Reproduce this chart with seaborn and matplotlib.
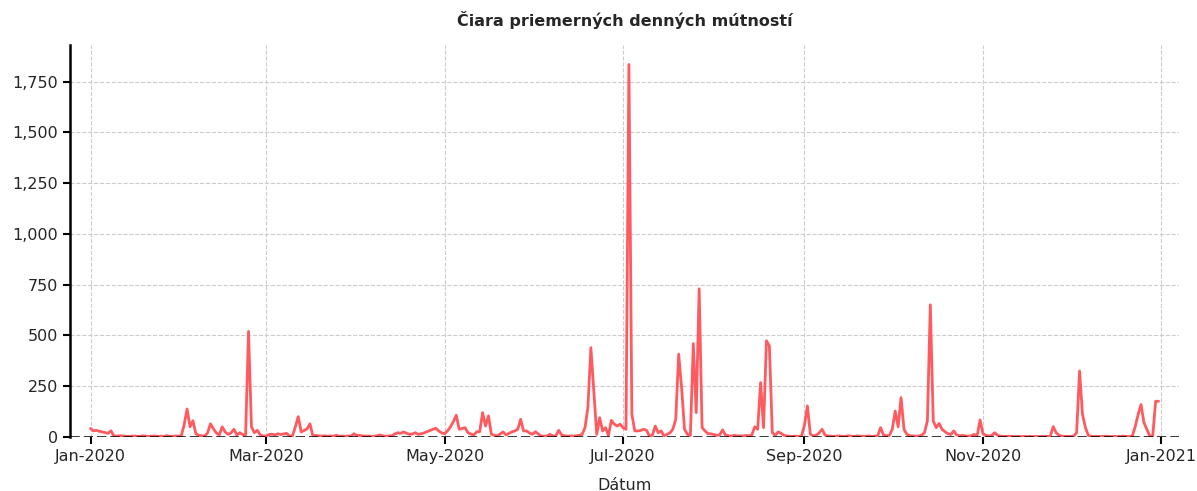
import pandas as pd
import numpy as np
import matplotlib
matplotlib.use("Agg")
import matplotlib.pyplot as plt
import matplotlib.dates as mdates
import matplotlib.ticker as mticker
import seaborn as sns

# denne priemerne mutnosti, 2020 (odcitane z grafu)
jan = [42, 30, 33, 28, 25, 22, 18, 30, 5, 4, 6, 5, 4, 3, 4, 5, 3, 4, 6, 4,
       3, 4, 5, 3, 4, 3, 6, 4, 3, 5, 4]
feb = [5, 60, 138, 50, 80, 16, 8, 6, 4, 20, 65, 40, 20, 10, 50, 25, 13, 20, 38, 10,
       21, 12, 10, 520, 50, 21, 33, 10, 5]
mar = [4, 12, 14, 10, 16, 12, 15, 18, 5, 5, 50, 100, 25, 32, 40, 65, 5, 8, 5, 4,
       6, 4, 5, 4, 8, 4, 5, 3, 5, 4, 16]
apr = [8, 8, 5, 4, 5, 3, 4, 6, 10, 5, 4, 5, 6, 15, 21, 18, 25, 18, 13, 15,
       21, 13, 16, 20, 26, 32, 38, 43, 30, 20]
may = [16, 30, 50, 75, 107, 38, 42, 46, 21, 15, 10, 26, 26, 120, 54, 104, 13, 8, 5, 15,
       25, 10, 18, 25, 30, 38, 87, 30, 30, 20, 13]
jun = [26, 15, 5, 4, 5, 13, 5, 4, 33, 10, 6, 4, 5, 4, 6, 8, 13, 46, 150, 440,
       230, 13, 95, 30, 46, 8, 82, 63, 54, 63]
jul = [46, 38, 1835, 112, 30, 30, 32, 38, 33, 5, 8, 54, 21, 30, 5, 13, 20, 38, 87, 408,
       243, 38, 13, 8, 460, 120, 730, 46, 30, 16, 16]
aug = [12, 8, 10, 35, 10, 6, 5, 8, 5, 6, 4, 8, 5, 10, 50, 38, 268, 46, 474, 449,
       21, 8, 25, 18, 8, 5, 4, 3, 4, 3, 5]
sep = [60, 153, 13, 6, 8, 20, 38, 10, 5, 4, 3, 4, 5, 3, 4, 6, 4, 3, 5, 4,
       3, 4, 5, 3, 4, 5, 46, 10, 5, 8]
okt = [38, 128, 50, 194, 38, 13, 6, 5, 4, 5, 8, 21, 79, 651, 79, 46, 67, 38, 26, 16,
       12, 30, 10, 6, 8, 5, 4, 6, 13, 5, 84]
nov = [16, 8, 5, 8, 21, 8, 4, 3, 3, 4, 3, 2, 3, 2, 3, 2, 3, 2, 3, 2,
       3, 2, 3, 4, 51, 21, 8, 4, 3, 3]
dec = [3, 4, 21, 325, 112, 46, 8, 3, 2, 3, 2, 3, 4, 3, 2, 3, 2, 3, 4, 3,
       2, 4, 50, 110, 160, 71, 38, 5, 3, 176, 176]

mutnost = jan + feb + mar + apr + may + jun + jul + aug + sep + okt + nov + dec
datumy = pd.date_range("2020-01-01", "2020-12-31", freq="D")

df = pd.DataFrame({"Dátum": datumy, "mutnost": mutnost})

sns.set_style("whitegrid", {"grid.linestyle": "--", "grid.color": "#cccccc"})
plt.rcParams['font.family'] = ['DejaVu Sans']

fig, ax = plt.subplots(figsize=(11.97, 4.91), dpi=100)
fig.subplots_adjust(left=0.0585, right=0.985, top=0.908, bottom=0.11)

sns.lineplot(data=df, x="Dátum", y="mutnost", ax=ax, color="#ff5a5f", linewidth=2)
ax.axhline(0, color="black", linestyle="--", linewidth=1.8)

ax.set_xlim(pd.Timestamp("2019-12-25"), pd.Timestamp("2021-01-07"))
ax.set_ylim(0, 1930)
ax.yaxis.set_major_locator(mticker.MultipleLocator(250))
ax.yaxis.set_major_formatter(mticker.StrMethodFormatter("{x:,.0f}"))
ax.xaxis.set_major_locator(mdates.MonthLocator(bymonth=[1, 3, 5, 7, 9, 11]))
ax.xaxis.set_major_formatter(mdates.DateFormatter("%b-%Y"))

for s in ["top", "right", "bottom"]:
    ax.spines[s].set_visible(False)
ax.spines["left"].set_color("black")
ax.spines["left"].set_linewidth(1.8)
ax.tick_params(axis="both", which="major", length=5, width=1.5, color="black",
               labelsize=11.5, left=True, bottom=True)

ax.set_title("Čiara priemerných denných mútností", fontsize=11.5, fontweight="bold", pad=14)
ax.set_xlabel("Dátum", fontsize=11.5, labelpad=10)
ax.set_ylabel("")

fig.savefig("out.png", dpi=100)
